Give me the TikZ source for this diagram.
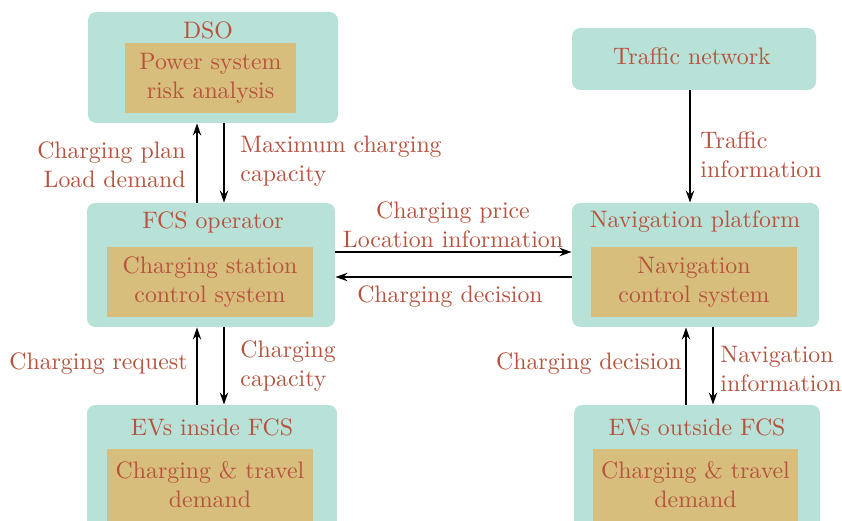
\documentclass[tikz,border=0pt]{standalone}
\usetikzlibrary{arrows.meta}
\definecolor{tealbox}{RGB}{184,226,216}
\definecolor{tanbox}{RGB}{216,190,124}
\definecolor{txt}{RGB}{182,82,62}
\newcommand{\myfont}{\fontsize{10}{12.3}\selectfont}
\begin{document}
\begin{tikzpicture}[x=0.42pt,y=-0.42pt,
  outer/.style={fill=tealbox,rounded corners=3.5pt,inner sep=0pt},
  inner/.style={fill=tanbox,inner sep=0pt,text=txt,align=center,font=\myfont},
  title/.style={text=txt,font=\myfont,inner sep=0pt},
  lbl/.style={text=txt,font=\myfont,inner sep=0pt},
  arr/.style={-{Stealth[length=5pt,width=3.5pt]},line width=0.7pt,black}]
\useasboundingbox (0,0) rectangle (842,521);
\clip (0,0) rectangle (842,521);
% outer boxes
\node[outer,minimum width=250*0.42pt,minimum height=111*0.42pt] (dso) at (213,67.5) {};
\node[outer,minimum width=244*0.42pt,minimum height=62*0.42pt] (traffic) at (694,59) {};
\node[outer,minimum width=248*0.42pt,minimum height=124*0.42pt] (fcs) at (211,265) {};
\node[outer,minimum width=247*0.42pt,minimum height=124*0.42pt] (nav) at (695.5,265) {};
\node[outer,minimum width=250*0.42pt,minimum height=130*0.42pt] (evin) at (212,470) {};
\node[outer,minimum width=246*0.42pt,minimum height=130*0.42pt] (evout) at (697,470) {};
% inner boxes
\node[inner,minimum width=171*0.42pt,minimum height=70*0.42pt] (dsoin) at (210.5,78) {Power system\\risk analysis};
\node[inner,minimum width=206*0.42pt,minimum height=70*0.42pt] (fcsin) at (210,282) {Charging station\\control system};
\node[inner,minimum width=206*0.42pt,minimum height=70*0.42pt] (navin) at (694,282) {Navigation\\control system};
\node[inner,minimum width=206*0.42pt,minimum height=76*0.42pt] (evinin) at (210,487) {};
\node[inner,minimum width=205*0.42pt,minimum height=76*0.42pt] (evoutin) at (695.5,487) {};
\node[inner,fill=none] (evintxt) at (210,484.5) {Charging \& travel\\demand};
\node[inner,fill=none] (evouttxt) at (695.5,484.5) {Charging \& travel\\demand};
% titles
\node[title] (dsot) at (208,30) {DSO};
\node[title] (traffict) at (692,56) {Traffic network};
\node[title] (fcst) at (213,222) {FCS operator};
\node[title] (navt) at (695,222) {Navigation platform};
\node[title] (evint) at (212,427) {EVs inside FCS};
\node[title] (evoutt) at (697,427) {EVs outside FCS};
% arrow x positions
\coordinate (xa) at (197,0);
\coordinate (xb) at (224,0);
\coordinate (xc) at (690,0);
\coordinate (xd) at (686,0);
\coordinate (xe) at (713,0);
\coordinate (ya) at (0,252);
\coordinate (yb) at (0,277);
% arrows
\draw[arr] (fcs.north -| xa) -- (dso.south -| xa);
\draw[arr] (dso.south -| xb) -- (fcs.north -| xb);
\draw[arr] (evin.north -| xa) -- (fcs.south -| xa);
\draw[arr] (fcs.south -| xb) -- (evin.north -| xb);
\draw[arr] (traffic.south -| xc) -- (nav.north -| xc);
\draw[arr] (evout.north -| xd) -- (nav.south -| xd);
\draw[arr] (nav.south -| xe) -- (evout.north -| xe);
\draw[arr] (fcs.east |- ya) -- (nav.west |- ya);
\draw[arr] (nav.west |- yb) -- (fcs.east |- yb);
% labels
\node[lbl,anchor=east,align=right] (l1) at (186,165) {Charging plan\\Load demand};
\node[lbl,anchor=west,align=left] (l2) at (240,161) {Maximum charging\\capacity};
\node[lbl,align=center] (l3) at (453,225) {Charging price\\Location information};
\node[lbl] (l4) at (450,297) {Charging decision};
\node[lbl,anchor=west,align=left] (l5) at (700,155) {Traffic\\information};
\node[lbl,anchor=east] (l6) at (188,364) {Charging request};
\node[lbl,anchor=west,align=left] (l7) at (240,366) {Charging\\capacity};
\node[lbl,anchor=east] (l8) at (682,364) {Charging decision};
\node[lbl,anchor=west,align=left] (l9) at (720,369) {Navigation\\information};
\end{tikzpicture}
\end{document}
